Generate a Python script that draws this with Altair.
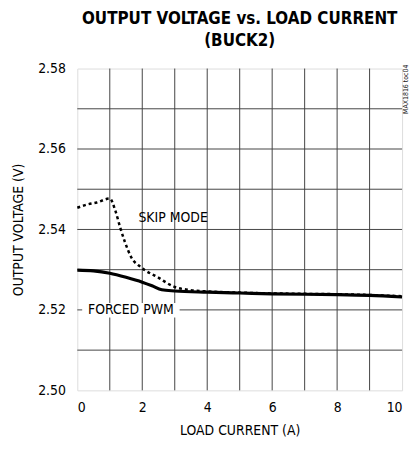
import altair as alt
import pandas as pd

forced_x = [0, 0.5, 1, 1.5, 2, 2.3, 2.6, 3, 4, 5, 6, 7, 8, 9, 10]
forced_y = [2.5299, 2.5297, 2.5291, 2.5281, 2.5269, 2.5260, 2.5250, 2.5247, 2.5244, 2.5242, 2.5240, 2.5239, 2.5238, 2.5236, 2.5232]

skip_x = [0, 0.3, 0.6, 1.0, 1.17, 1.32, 1.47, 1.66, 1.96, 2.48, 3.0, 3.4, 4, 5, 6, 7, 8, 9, 10]
skip_y = [2.5454, 2.5462, 2.5467, 2.5477, 2.5447, 2.5405, 2.5368, 2.5331, 2.5306, 2.5281, 2.5257, 2.5250, 2.5246, 2.5243, 2.5241, 2.5240, 2.5239, 2.5237, 2.5234]

label_text = ["SKIP MODE", "FORCED PWM"]
label_x = [2.95, 1.65]
label_y = [2.5428, 2.5199]
label_bg = [False, True]

FONT = "DejaVu Sans Condensed"

forced = pd.DataFrame({"x": forced_x, "y": forced_y})
skip = pd.DataFrame({"x": skip_x, "y": skip_y})
labels = pd.DataFrame({"t": label_text, "x": label_x, "y": label_y, "bg": label_bg})

xs = alt.Scale(domain=[0, 10], nice=False, zero=False)
ys = alt.Scale(domain=[2.50, 2.58], nice=False, zero=False)

base_x = alt.X("x:Q", scale=xs, title="LOAD CURRENT (A)",
               axis=alt.Axis(values=[0, 2, 4, 6, 8, 10], grid=False, ticks=False,
                             domain=False, labelFontSize=14, titleFontSize=14,
                             labelFont=FONT, titleFont=FONT, labelColor="black",
                             titleColor="black", titleFontWeight="normal", labelPadding=10,
                             titlePadding=10, format="d"))
base_y = alt.Y("y:Q", scale=ys, title="OUTPUT VOLTAGE (V)",
               axis=alt.Axis(values=[2.50, 2.52, 2.54, 2.56, 2.58], grid=False, ticks=False,
                             domain=False, labelFontSize=14, titleFontSize=14,
                             labelFont=FONT, titleFont=FONT, labelColor="black",
                             titleColor="black", titleFontWeight="normal", labelPadding=12,
                             titlePadding=12, format=".2f"))

grid_v = pd.DataFrame({"x": list(range(1, 10))})
grid_h = pd.DataFrame({"y": [2.51, 2.52, 2.53, 2.54, 2.55, 2.56, 2.57]})

vlines = alt.Chart(grid_v).mark_rule(color="#444", strokeWidth=1).encode(
    x=alt.X("x:Q", scale=xs))
hlines = alt.Chart(grid_h).mark_rule(color="#444", strokeWidth=1).encode(
    y=alt.Y("y:Q", scale=ys))

bg = alt.Chart(labels).transform_filter("datum.bg").mark_rect(color="white").encode(
    x=alt.X("x1:Q", scale=xs), x2="x2:Q",
    y=alt.Y("y1:Q", scale=ys), y2="y2:Q"
).transform_calculate(x1="datum.x - 1.5", x2="datum.x + 1.5",
                      y1="datum.y - 0.0018", y2="datum.y + 0.0018")

skip_line = alt.Chart(skip).mark_line(color="black", strokeWidth=2.5, strokeDash=[3, 3],
                                      interpolate="monotone").encode(x=base_x, y=base_y)
forced_line = alt.Chart(forced).mark_line(color="black", strokeWidth=3.2,
                                          interpolate="monotone").encode(x=base_x, y=base_y)

txt = alt.Chart(labels).mark_text(font=FONT, fontSize=14, color="black").encode(
    x=alt.X("x:Q", scale=xs), y=alt.Y("y:Q", scale=ys), text="t:N")

note = alt.Chart(pd.DataFrame({"t": ["MAX1816 toc04"]})).mark_text(
    font=FONT, fontSize=7, angle=270, color="#222", align="right", baseline="middle"
).encode(x=alt.value(332), y=alt.value(-4), text="t:N")

chart = alt.layer(vlines, hlines, bg, skip_line, forced_line, txt, note).properties(
    width=328, height=325,
    autosize=alt.AutoSizeParams(type="none"),
    title=alt.TitleParams(["OUTPUT VOLTAGE vs. LOAD CURRENT", "(BUCK2)"], font=FONT,
                          fontSize=17, fontWeight="bold", color="black", anchor="middle",
                          offset=12, lineHeight=22),
    padding={"left": 70, "top": 59, "right": 7, "bottom": 50}
).configure_view(stroke="black", strokeWidth=3).configure(background="white")

chart.save("out.html", embed_options={"renderer": "svg", "actions": False})
